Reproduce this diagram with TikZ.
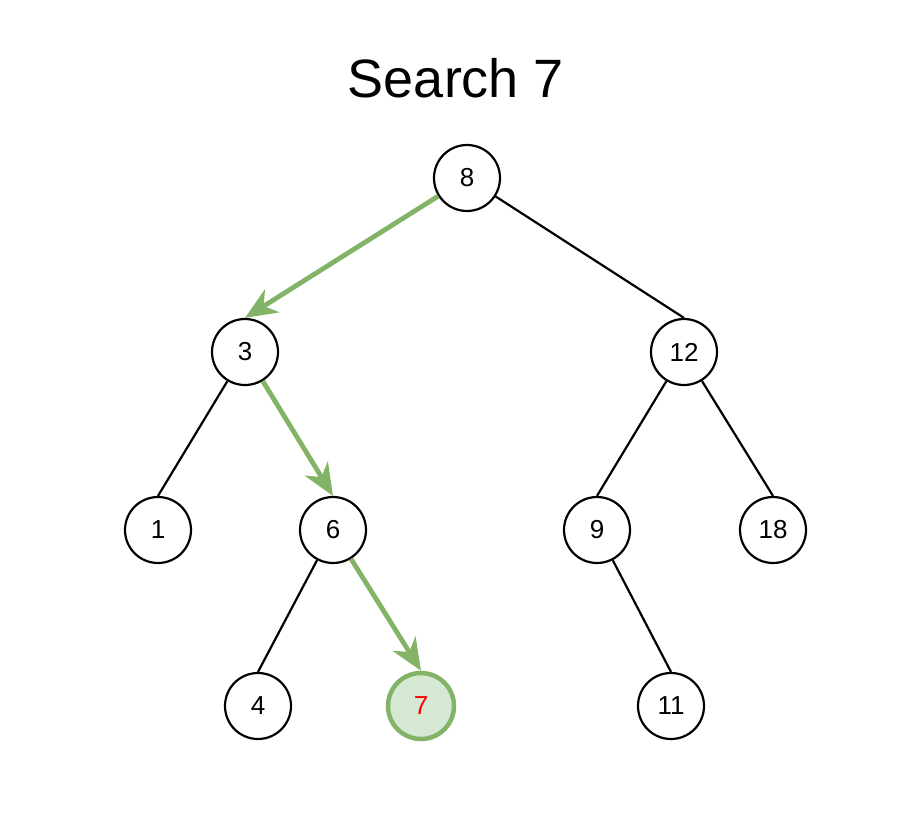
\documentclass[tikz,border=0pt]{standalone}
\usepackage{fontspec}
\setmainfont{Liberation Sans}
\usetikzlibrary{arrows.meta}
\definecolor{gstroke}{HTML}{82B366}
\definecolor{gfill}{HTML}{D5E8D4}
\begin{document}
\begin{tikzpicture}[x=1pt,y=-1pt,
  tnode/.style={circle,draw=black,line width=2.2pt,minimum size=66pt,inner sep=0pt,fill=white,font=\fontsize{26}{28}\selectfont},
  hit/.style={tnode,draw=gstroke,fill=gfill,line width=4.5pt,text=red},
  edge/.style={line width=2.2pt,draw=black},
  path/.style={line width=4.8pt,draw=gstroke,-{Stealth[length=32pt,width=27pt,inset=10pt]}}]
\useasboundingbox (0,0) rectangle (912,824);
\node[font=\fontsize{54}{60}\selectfont] (title) at (456,78) {Search 7};
\node[tnode] (n8) at (467,178) {8};
\node[tnode] (n3) at (245,352) {3};
\node[tnode] (n12) at (684,352) {12};
\node[tnode] (n1) at (158,530) {1};
\node[tnode] (n6) at (333,530) {6};
\node[tnode] (n9) at (597,530) {9};
\node[tnode] (n18) at (773,530) {18};
\node[tnode] (n4) at (258,706) {4};
\node[hit] (n7) at (421,706) {7};
\node[tnode] (n11) at (671,706) {11};
\draw[edge] (n8) -- (n12.north);
\draw[edge] (n3) -- (n1.north);
\draw[edge] (n12) -- (n9.north);
\draw[edge] (n12) -- (n18.north);
\draw[edge] (n6) -- (n4.north);
\draw[edge] (n9) -- (n11.north);
\draw[path] (n8) -- (n3.north);
\draw[path] (n3) -- (n6.north);
\draw[path] (n6) -- (n7.north);
\end{tikzpicture}
\end{document}
